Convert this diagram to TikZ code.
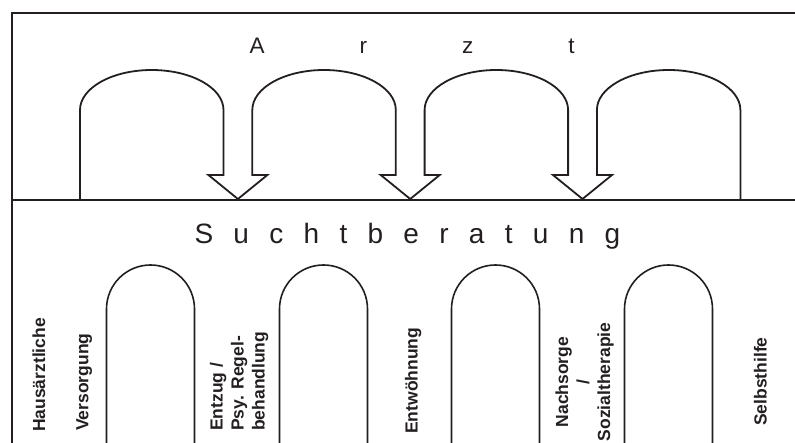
\documentclass[tikz,border=0pt]{standalone}
\usepackage{fontspec}
\setmainfont{Liberation Sans}
\definecolor{ink}{HTML}{231F20}
\newcommand{\lsgap}{\hspace{20.3pt}}
\newcommand{\wsgap}{\hspace{95pt}}
\begin{document}
\begin{tikzpicture}[x=1pt,y=-1pt,
  frame/.style={draw=ink,line width=2.3pt},
  flow/.style={draw=ink,line width=1.8pt,line join=miter},
  loop/.style={draw=ink,line width=1.6pt},
  title/.style={inner sep=0pt,text=ink},
  stage/.style={inner sep=0pt,text=ink,rotate=90,
    font=\fontsize{17.5}{21}\selectfont\bfseries}]
\useasboundingbox (0,0) rectangle (795,443);

% outer frame and the dividing line between the two areas
\coordinate (tl) at (12,13);
\coordinate (tr) at (795,13);
\coordinate (bl) at (12,443);
\coordinate (ml) at (12,200);
\coordinate (mr) at (795,200);
\draw[frame] (tr) -- (tl) -- (bl);
\draw[frame] (ml) -- (mr);

% upper area: one serpentine band of arches ending in down arrows
\draw[flow]
  (80,200) -- (80,110)
  arc[start angle=180,end angle=0,x radius=71.75pt,y radius=40pt]
  -- (223.5,175) -- (208.4,175) -- (237.9,199) -- (267.4,175) -- (252.3,175)
  -- (252.3,110)
  arc[start angle=180,end angle=0,x radius=71.75pt,y radius=40pt]
  -- (395.8,175) -- (380.7,175) -- (410.2,199) -- (439.7,175) -- (424.6,175)
  -- (424.6,110)
  arc[start angle=180,end angle=0,x radius=71.75pt,y radius=40pt]
  -- (568.1,175) -- (553.0,175) -- (582.5,199) -- (612.0,175) -- (596.9,175)
  -- (596.9,110)
  arc[start angle=180,end angle=0,x radius=71.75pt,y radius=40pt]
  -- (740.4,200);

\node[title,anchor=base west,font=\fontsize{22.5}{26}\selectfont]
  (arzt) at (249.4,53.3) {A\wsgap r\wsgap z\wsgap t};

% lower area: four round-topped loops
\foreach \c in {150.5,323.5,495.5,668.5}{
  \draw[loop] (\c-44,443) -- (\c-44,309)
    arc[start angle=180,end angle=0,radius=44pt] -- (\c+44,443);
}

\node[title,anchor=base west,font=\fontsize{28}{32}\selectfont]
  (sucht) at (194.3,243.3)
  {S\lsgap u\lsgap c\lsgap h\lsgap t\lsgap b\lsgap e\lsgap r\lsgap a\lsgap t\lsgap u\lsgap n\lsgap g};

% stages, read from bottom to top
\node[stage,anchor=base west] (s1) at (45,432) {Hausärztliche};
\node[stage,anchor=base west] (s2) at (88.3,431) {Versorgung};
\node[stage,anchor=north west,align=left] (s3) at (209.7,431)
  {Entzug /\\Psy. Regel-\\behandlung};
\node[stage,anchor=base west] (s4) at (417.7,434) {Entwöhnung};
\node[stage,anchor=north,align=center] (s5) at (555.3,382)
  {Nachsorge\\/\\Sozialtherapie};
\node[stage,anchor=base west] (s6) at (766.7,426) {Selbsthilfe};
\end{tikzpicture}
\end{document}
